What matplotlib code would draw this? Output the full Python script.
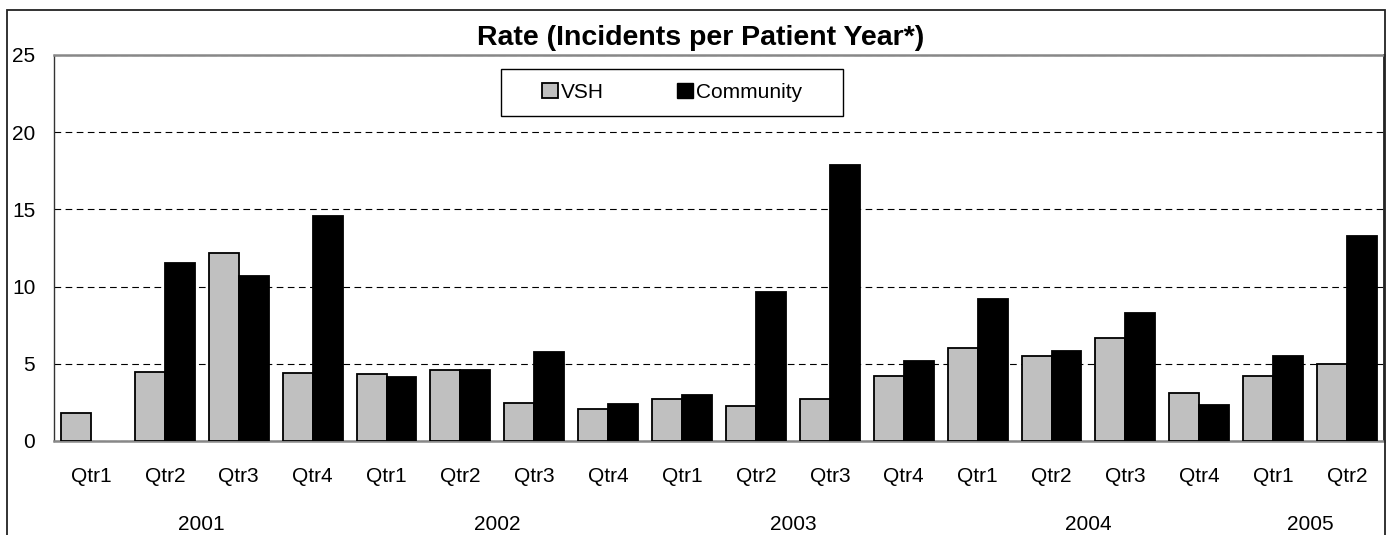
#!/usr/bin/env python3
import numpy as np
import matplotlib
matplotlib.use('Agg')
import matplotlib.pyplot as plt
from matplotlib.patches import Patch, Rectangle

plt.rcParams['font.family'] = ['Liberation Sans', 'DejaVu Sans']

quarters = ['Qtr1', 'Qtr2', 'Qtr3', 'Qtr4', 'Qtr1', 'Qtr2', 'Qtr3', 'Qtr4',
            'Qtr1', 'Qtr2', 'Qtr3', 'Qtr4', 'Qtr1', 'Qtr2', 'Qtr3', 'Qtr4',
            'Qtr1', 'Qtr2']
years = ['2001', '2002', '2003', '2004', '2005']
quarters_per_year = [4, 4, 4, 4, 2]
vsh = [1.8, 4.45, 12.15, 4.4, 4.35, 4.6, 2.45, 2.05, 2.7, 2.25, 2.7, 4.2,
       6.05, 5.5, 6.7, 3.1, 4.2, 5.0]
community = [np.nan, 11.55, 10.7, 14.55, 4.15, 4.6, 5.75, 2.4, 2.95, 9.65,
             17.85, 5.15, 9.2, 5.85, 8.3, 2.35, 5.5, 13.25]

W, H = 1387, 535
fig = plt.figure(figsize=(W / 100, H / 100), dpi=100)

# outer chart border (bottom runs off the image)
fig.patches.append(Rectangle((7 / W, -0.05), (1385 - 7) / W, 1.05 - 10 / H,
                             transform=fig.transFigure, fill=False,
                             edgecolor='#222222', linewidth=1.3))

ax = fig.add_axes([54 / W, (H - 441) / H, (1384 - 54) / W, (441 - 55) / H])

x = np.arange(len(quarters))
w = 0.406
ax.bar(x - w / 2, vsh, w, color='#c0c0c0', edgecolor='black', linewidth=1.3,
       label='VSH', zorder=3)
ax.bar(x + w / 2, community, w, color='black', edgecolor='black',
       linewidth=1.3, label='Community', zorder=3)

ax.set_xlim(-0.5, len(quarters) - 0.5)
ax.set_ylim(0, 25)
ax.set_yticks(range(0, 26, 5))
ax.set_xticks([])
ax.tick_params(axis='y', length=0, pad=13.5, labelsize=15)
ax.yaxis.grid(True, color='black', linestyle=(0, (6, 4)), linewidth=0.8)
ax.set_axisbelow(True)

ax.spines['left'].set_color('#333333')
ax.spines['left'].set_linewidth(1.0)
ax.spines['top'].set_color('#888888')
ax.spines['top'].set_linewidth(1.8)
ax.spines['bottom'].set_color('#888888')
ax.spines['bottom'].set_linewidth(1.8)
ax.spines['right'].set_color('#222222')
ax.spines['right'].set_linewidth(1.3)

trans = ax.get_xaxis_transform()
for i, q in enumerate(quarters):
    ax.text(i, -0.106, q, transform=trans, ha='center', va='baseline',
            fontsize=15)
start = 0
for yr, n in zip(years, quarters_per_year):
    ax.text(start + (n - 1) / 2, -0.2306, yr, transform=trans, ha='center',
            va='baseline', fontsize=15)
    start += n

fig.text(701 / W, 1 - 45 / H, 'Rate (Incidents per Patient Year*)',
         ha='center', va='baseline', fontsize=20.5, fontweight='bold')

# legend box
fig.patches.append(Rectangle((501 / W, (H - 116) / H), 342 / W, 47 / H,
                             transform=fig.transFigure, facecolor='white',
                             edgecolor='black', linewidth=1.0, zorder=5))
handles = [Patch(facecolor='#c0c0c0', edgecolor='black', linewidth=1.3,
                 label='VSH'),
           Patch(facecolor='black', edgecolor='black', label='Community')]
leg = fig.legend(handles=handles, loc='center', ncol=2,
                 bbox_to_anchor=(672 / W, 1 - 92.5 / H), frameon=False,
                 fontsize=15, handlelength=0.75, handleheight=0.75,
                 handletextpad=0.15, columnspacing=3.5)
leg.set_zorder(6)

fig.savefig('out.png', dpi=100)
